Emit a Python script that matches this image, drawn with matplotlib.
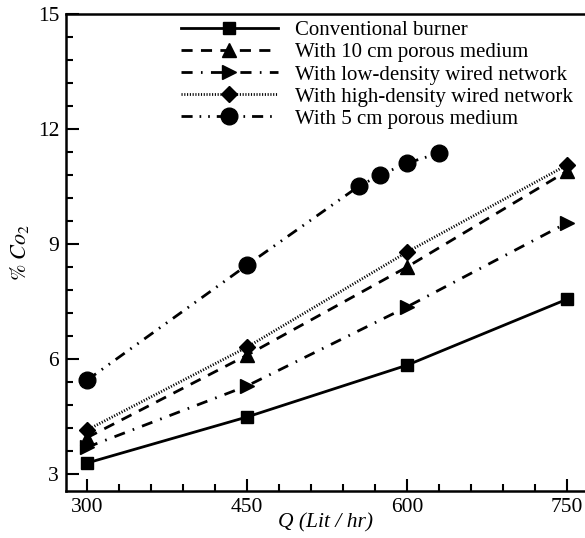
import matplotlib
matplotlib.use("Agg")
import matplotlib.pyplot as plt
from matplotlib.ticker import MultipleLocator

plt.rcParams["font.family"] = ["Liberation Serif", "DejaVu Serif"]
plt.rcParams["mathtext.fontset"] = "stix"

# data
flow = [300, 450, 600, 750]
conventional = [3.29, 4.49, 5.84, 7.56]
porous_10cm = [3.95, 6.10, 8.40, 10.90]
low_density = [3.70, 5.30, 7.36, 9.55]
high_density = [4.15, 6.31, 8.79, 11.06]
flow_5cm = [300, 450, 555, 575, 600, 630]
porous_5cm = [5.45, 8.45, 10.51, 10.80, 11.11, 11.37]

labels = ["Conventional burner", "With 10 cm porous medium",
          "With low-density wired network", "With high-density wired network",
          "With 5 cm porous medium"]

fig = plt.figure(figsize=(5.85, 5.38), dpi=100)
ax = fig.add_axes([66 / 585, 1 - 491 / 538, 1 - 66 / 585, (491 - 14) / 538])

lw = 2.0
ax.plot(flow, conventional, color="black", lw=lw, ls="-", marker="s", ms=9, label=labels[0])
ax.plot(flow, porous_10cm, color="black", lw=lw, ls=(0, (4, 3)), marker="^", ms=10, label=labels[1])
ax.plot(flow, low_density, color="black", lw=lw, ls=(0, (4, 3, 0.6, 3)), marker=">", ms=10, label=labels[2])
ax.plot(flow, high_density, color="black", lw=lw, ls=(0, (0.4, 0.6)), marker="D", ms=8, label=labels[3])
ax.plot(flow_5cm, porous_5cm, color="black", lw=lw, ls=(0, (4, 2.5, 0.6, 2.5, 0.6, 2.5)),
        marker="o", ms=12, label=labels[4])

ax.set_xlim(280.3, 767)
ax.set_ylim(2.56, 15)
ax.xaxis.set_major_locator(MultipleLocator(150))
ax.xaxis.set_minor_locator(MultipleLocator(30))
ax.yaxis.set_major_locator(MultipleLocator(3))
ax.yaxis.set_minor_locator(MultipleLocator(0.6))
ax.tick_params(which="both", direction="in", top=False, right=False, labelsize=15.5, width=1.5)
ax.tick_params(which="major", length=9, pad=5)
ax.tick_params(which="minor", length=5)

for side in ["left", "bottom", "top"]:
    ax.spines[side].set_linewidth(1.8)
ax.spines["right"].set_visible(False)

ax.set_xlabel("Q (Lit / hr)", fontsize=15.5, style="italic")
ax.xaxis.set_label_coords(0.5, -0.047)
ax.set_ylabel(r"$\% \ Co_2$", fontsize=16)
ax.yaxis.set_label_coords(-0.067, 0.5)

ax.legend(loc="upper left", bbox_to_anchor=(0.197, 1.012), frameon=False, fontsize=15,
          handlelength=4.65, handletextpad=0.85, labelspacing=0.12, borderaxespad=0.2)

fig.savefig("out.png", dpi=100)
